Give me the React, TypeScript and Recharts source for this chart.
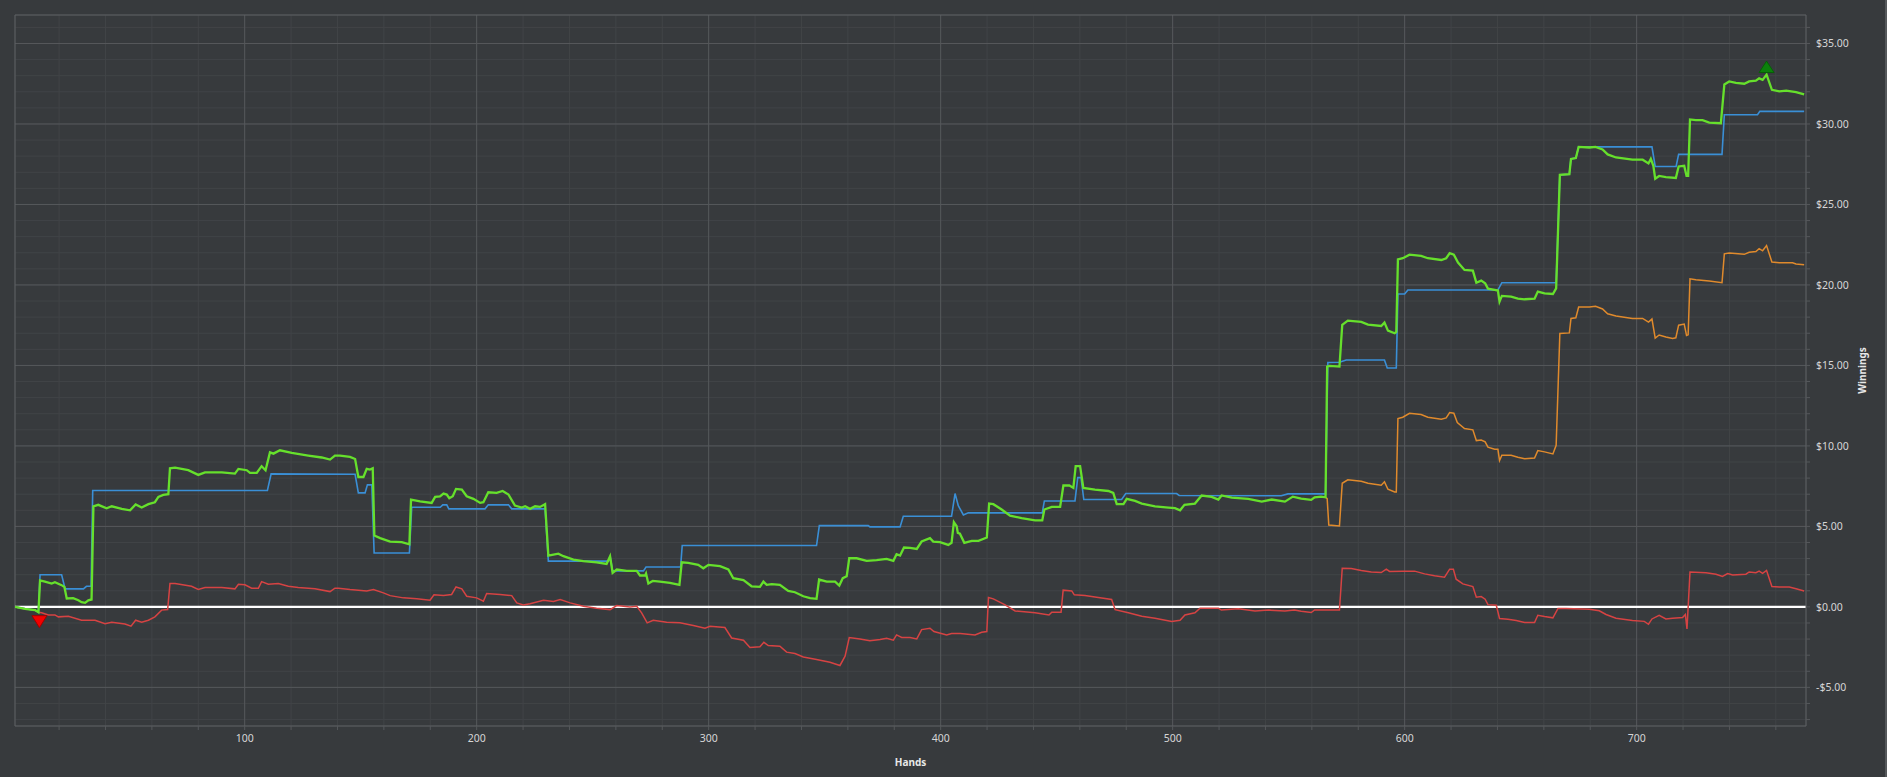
import {
  CartesianGrid,
  Label,
  Line,
  LineChart,
  ReferenceDot,
  ReferenceLine,
  XAxis,
  YAxis,
} from "recharts";

type Point = [number, number];

// axis ticks
const handTicks = [
  20, 40, 60, 80, 100, 120, 140, 160, 180, 200, 220, 240, 260, 280, 300, 320, 340, 360, 380,
  400, 420, 440, 460, 480, 500, 520, 540, 560, 580, 600, 620, 640, 660, 680, 700, 720, 740, 760,
];
const handLabels = [100, 200, 300, 400, 500, 600, 700];
const winningsTicks = [
  -7, -6, -5, -4, -3, -2, -1, 0, 1, 2, 3, 4, 5, 6, 7, 8, 9, 10, 11, 12, 13, 14, 15, 16, 17, 18,
  19, 20, 21, 22, 23, 24, 25, 26, 27, 28, 29, 30, 31, 32, 33, 34, 35, 36,
];
const winningsLabels = [-5, 0, 5, 10, 15, 20, 25, 30, 35];

const handDomain: Point = [1, 773];
const winningsDomain: Point = [-7.4, 36.77];

// net won (green)
const netWon: Point[] = [
  [1, 0], [5.3, -0.12], [9.6, -0.2], [11.1, -0.33], [11.8, 1.64], [13.9, 1.57], [16.8, 1.45],
  [18.2, 1.53], [21.1, 1.35], [22.3, 1.24], [23.3, 0.52], [26.1, 0.54], [28.3, 0.41], [29.7, 0.29],
  [31.2, 0.25], [32.6, 0.41], [34.0, 0.46], [34.8, 6.25], [36.9, 6.34], [40.5, 6.13], [42.7, 6.25],
  [47, 6.09], [50.6, 6.0], [53, 6.36], [55.6, 6.17], [58.5, 6.38], [61.3, 6.5], [62.8, 6.83],
  [64.9, 6.96], [67.1, 7.0], [67.8, 8.61], [70, 8.65], [75.7, 8.49], [80, 8.2], [82.9, 8.36],
  [90.1, 8.36], [95.8, 8.28], [97.3, 8.57], [100.9, 8.49], [102.3, 8.32], [105.2, 8.32],
  [107.3, 8.74], [109, 8.49], [110.9, 9.6], [112.4, 9.52], [115.2, 9.73], [120.3, 9.57],
  [127.4, 9.4], [133.2, 9.28], [136.8, 9.15], [138.9, 9.4], [141.1, 9.4], [145.4, 9.32],
  [147.6, 9.19], [149, 8.07], [151.2, 8.07], [152.6, 8.57], [154, 8.53], [155.2, 8.61],
  [155.9, 4.43], [158.4, 4.27], [162.7, 4.06], [167.7, 4.02], [171, 3.89], [171.7, 6.67],
  [175.6, 6.56], [180.6, 6.46], [182.1, 6.83], [184.2, 6.87], [185.7, 7.04], [187.1, 6.98],
  [188.2, 6.75], [189.7, 6.87], [191.1, 7.33], [193.6, 7.29], [195.7, 6.87], [198.6, 6.71],
  [201.5, 6.46], [202.9, 6.5], [205, 7.12], [208.6, 7.08], [211.2, 7.2], [213.7, 6.98],
  [216.5, 6.29], [219.4, 6.17], [220.9, 6.25], [223, 6.09], [225.2, 6.25], [227.3, 6.21],
  [229.5, 6.38], [230.9, 3.19], [235.2, 3.31], [237.4, 3.15], [241.7, 2.94], [246, 2.84],
  [251.7, 2.77], [256, 2.67], [257.5, 3.15], [258.6, 2.11], [260.4, 2.32], [264.7, 2.24],
  [269, 2.24], [270.4, 1.95], [272.6, 1.95], [273, 2.07], [274, 1.45], [275.9, 1.61], [279, 1.57],
  [283.3, 1.49], [287.4, 1.37], [288.4, 2.77], [291.2, 2.73], [295.5, 2.61], [297.7, 2.4],
  [299.9, 2.61], [304.9, 2.53], [308.5, 2.32], [310.6, 1.78], [315, 1.66], [318.5, 1.28],
  [322.1, 1.24], [323.6, 1.57], [325, 1.37], [327.2, 1.41], [330.7, 1.37], [334.3, 0.99],
  [337.2, 0.91], [340.8, 0.66], [343.7, 0.54], [346.5, 0.5], [347.6, 1.7], [350.9, 1.57],
  [354.5, 1.57], [356.3, 1.33], [357.8, 1.78], [359.5, 1.9], [360.6, 3.02], [363.8, 3.02],
  [368.1, 2.86], [372.4, 2.9], [376.7, 2.98], [379.6, 2.86], [381, 3.27], [382.5, 3.19],
  [384.2, 3.69], [386.8, 3.67], [389.7, 3.6], [391.8, 4.06], [395.4, 4.27], [396.8, 4.06],
  [399.7, 4.02], [403.3, 3.85], [404.7, 3.98], [405.7, 5.26], [406.9, 5.01], [407.4, 4.6],
  [408.3, 4.55], [410.2, 3.98], [413.4, 4.1], [416.3, 4.1], [419.9, 4.31], [420.9, 6.42],
  [422.7, 6.38], [426.3, 6.05], [429.9, 5.67], [434.9, 5.51], [440.7, 5.38], [443.8, 5.38],
  [444.7, 6.05], [447.9, 6.21], [451.5, 6.21], [452.9, 7.54], [455.5, 7.54], [457.2, 7.39],
  [458.2, 8.74], [460.1, 8.74], [461.5, 7.39], [466.5, 7.29], [472.3, 7.2], [474.4, 7.08],
  [475.9, 6.38], [478.8, 6.38], [480.2, 6.71], [483.8, 6.58], [486.7, 6.42], [492.4, 6.25],
  [498.2, 6.17], [501, 6.13], [503.2, 6.0], [505.1, 6.34], [509.6, 6.42], [512.5, 6.92],
  [516.8, 6.83], [519.7, 6.67], [521.1, 6.92], [525.5, 6.79], [532.6, 6.71], [538.4, 6.54],
  [542.7, 6.67], [548.4, 6.54], [551.8, 6.85], [555.4, 6.73], [559.7, 6.65], [561.2, 6.81],
  [564, 6.85], [565.9, 6.81], [566.6, 14.93], [567.6, 14.97], [571.9, 14.93], [573.1, 17.52],
  [575.5, 17.78], [581.3, 17.7], [584.2, 17.54], [589.9, 17.45], [591.3, 17.66], [592.8, 17.16],
  [595.7, 17.0], [596.4, 17.08], [597.1, 21.59], [599.2, 21.66], [602.1, 21.88], [607.1, 21.8],
  [610, 21.66], [615.8, 21.55], [617.9, 21.66], [619.4, 21.97], [621.2, 21.88], [623, 21.39],
  [625.8, 20.93], [629.4, 20.89], [630.9, 20.14], [633, 20.27], [634.7, 20.1], [635.9, 19.77],
  [638.8, 19.69], [640.2, 19.65], [640.9, 18.96], [641.9, 19.32], [645.9, 19.28], [648.8, 19.15],
  [651.7, 19.11], [656, 19.15], [657.4, 19.59], [660.3, 19.48], [663.9, 19.44], [665.3, 19.79],
  [666.9, 26.84], [671, 26.88], [671.7, 27.83], [673.8, 27.88], [675, 28.58], [679.6, 28.54],
  [682.3, 28.58], [685.3, 28.42], [687.5, 28.11], [691.1, 27.92], [698.2, 27.78], [702.6, 27.78],
  [705.1, 27.55], [706.1, 27.83], [707.2, 27.4], [708, 26.6], [709.7, 26.77], [712.6, 26.7],
  [716.9, 26.65], [718.1, 27.36], [720.5, 27.4], [721.5, 26.77], [722.2, 26.77], [723, 30.28],
  [725.5, 30.24], [728.4, 30.24], [731.3, 30.09], [736.3, 30.05], [737.8, 32.45], [739.9, 32.64],
  [742.8, 32.55], [746.4, 32.5], [748.5, 32.64], [751.4, 32.69], [752.8, 32.83], [754.3, 32.74],
  [756, 33.07], [758.3, 32.12], [761.5, 32.03], [764.5, 32.07], [768.7, 31.98], [772.2, 31.84],
];

// all-in adjusted (blue)
const allInEv: Point[] = [
  [1, 0], [5.3, -0.12], [9.6, -0.2], [11.1, -0.33], [11.8, 2.0], [21.1, 2.0], [22.6, 1.12],
  [30.5, 1.12], [31.8, 1.28], [33.8, 1.28], [34.5, 7.23], [109.8, 7.23], [111.4, 8.26],
  [147.6, 8.24], [149, 7.08], [151.9, 7.08], [152.9, 7.58], [154.8, 7.58], [155.8, 3.35],
  [171, 3.35], [172, 6.19], [184.3, 6.19], [185.4, 6.34], [187.1, 6.34], [188, 6.09],
  [203.6, 6.09], [205, 6.34], [213.7, 6.34], [215.1, 6.09], [229.5, 6.09], [230.9, 2.84],
  [256.8, 2.84], [257.5, 3.15], [258.6, 2.24], [271.9, 2.24], [273, 2.48], [287.9, 2.48],
  [288.6, 3.81], [346.5, 3.81], [347.7, 5.05], [368.8, 5.05], [369.5, 4.97], [382.5, 4.97],
  [383.9, 5.63], [404.7, 5.63], [406.2, 7.04], [407.6, 6.29], [409.8, 5.71], [411.9, 5.84],
  [443.8, 5.84], [444.7, 6.58], [457.9, 6.58], [459.1, 8.03], [460.5, 8.03], [461.7, 6.67],
  [478, 6.67], [479.8, 7.04], [501.7, 7.04], [502.8, 6.92], [546.8, 6.9], [549.7, 7.02],
  [565.9, 7.02], [566.9, 15.18], [571.9, 15.2], [574.8, 15.34], [591.3, 15.34], [592.5, 14.84],
  [596.4, 14.84], [597.1, 19.44], [600, 19.44], [601.4, 19.69], [640.2, 19.69], [641.9, 20.14],
  [665.3, 20.14], [666.9, 26.84], [671, 26.88], [671.7, 27.83], [673.8, 27.88], [675, 28.58],
  [706.6, 28.58], [708, 27.36], [717, 27.36], [718.1, 28.11], [736.8, 28.11], [737.8, 30.57],
  [752.1, 30.57], [753.1, 30.78], [772.2, 30.78],
];

// showdown winnings (orange)
const showdownWon: Point[] = [
  [565.9, 6.81], [566.6, 6.73], [567.3, 5.09], [571.9, 5.03], [573.1, 7.68], [575.5, 7.89],
  [581.3, 7.81], [584.2, 7.68], [589.9, 7.56], [591.3, 7.77], [592.8, 7.31], [595.7, 7.14],
  [596.4, 7.14], [597.1, 11.7], [599.2, 11.78], [602.1, 12.03], [607.1, 11.95], [610, 11.78],
  [615.8, 11.66], [617.9, 11.74], [619.4, 12.07], [621.2, 12.03], [622.7, 11.45], [625.8, 11.08],
  [629.4, 11.0], [630.9, 10.33], [633, 10.37], [634.7, 10.25], [635.9, 9.92], [638.8, 9.79],
  [640.2, 9.79], [640.9, 9.09], [641.9, 9.42], [645.9, 9.42], [648.8, 9.3], [651.7, 9.21],
  [656, 9.25], [657.4, 9.71], [660.3, 9.63], [663.9, 9.5], [665.3, 10.04], [666.9, 16.98],
  [671, 17.02], [671.7, 17.92], [673.8, 17.96], [675, 18.63], [679.6, 18.63], [682.3, 18.67],
  [685.3, 18.51], [687.5, 18.21], [691.1, 18.07], [698.2, 17.92], [702.6, 17.92], [705.1, 17.69],
  [706.6, 17.88], [708, 16.7], [709.7, 16.89], [712.6, 16.77], [715.5, 16.68], [716.9, 16.72],
  [718.1, 17.5], [720.5, 17.57], [721.5, 16.86], [722.2, 16.9], [723, 20.38], [725.5, 20.33],
  [731.3, 20.24], [736.8, 20.14], [737.8, 21.93], [739.9, 21.98], [746.4, 21.9], [748.5, 22.03],
  [751.4, 22.08], [752.8, 22.26], [754.3, 22.12], [756, 22.45], [758.3, 21.42], [761.5, 21.38],
  [767.2, 21.38], [768.7, 21.3], [772.2, 21.26],
];

// non-showdown winnings (red)
const nonShowdownWon: Point[] = [
  [1, 0], [5.3, -0.12], [9.6, -0.2], [11.1, -0.33], [12.5, -0.37], [15.4, -0.5], [18.2, -0.5],
  [19.7, -0.62], [24, -0.58], [29.7, -0.83], [35.5, -0.83], [39.8, -1.04], [42.7, -0.95],
  [48.4, -1.06], [51, -1.2], [53, -0.83], [55.6, -0.95], [58.5, -0.83], [61.3, -0.62],
  [64.2, -0.2], [66.8, -0.17], [67.8, 1.45], [70, 1.45], [77.1, 1.28], [80, 1.08], [82.9, 1.2],
  [90.1, 1.2], [95.8, 1.12], [97.3, 1.41], [100.1, 1.37], [103, 1.16], [105.9, 1.16],
  [107.3, 1.57], [110.2, 1.41], [114.5, 1.45], [118.8, 1.28], [123.1, 1.2], [130.3, 1.12],
  [136.8, 0.95], [138.9, 1.16], [140.4, 1.16], [145.4, 1.08], [152.6, 0.99], [155.5, 1.08],
  [159.8, 0.87], [162.7, 0.7], [168.4, 0.56], [174.2, 0.5], [179.9, 0.41], [181.6, 0.75],
  [185.7, 0.7], [189.2, 0.77], [191.1, 1.24], [193.6, 1.12], [195.7, 0.66], [200, 0.56],
  [202.9, 0.35], [204.3, 0.83], [210.1, 0.77], [215.1, 0.7], [217.3, 0.25], [220.1, 0.12],
  [223, 0.2], [228.8, 0.41], [233.1, 0.33], [236, 0.46], [240.3, 0.25], [246, 0.04],
  [251.7, -0.08], [257.5, -0.17], [260.4, 0.08], [266.1, 0], [269, 0.04], [271.1, -0.37],
  [273.5, -0.99], [276.1, -0.83], [281.9, -0.95], [287.6, -0.99], [293.4, -1.16], [298.4, -1.33],
  [300.6, -1.2], [307, -1.28], [309.9, -1.93], [315, -2.07], [317.8, -2.52], [322.1, -2.48],
  [323.8, -2.2], [325.7, -2.4], [330.7, -2.44], [333.6, -2.81], [337.2, -2.9], [340.8, -3.11],
  [346.5, -3.27], [352.3, -3.44], [356.6, -3.64], [358.8, -3.06], [360.6, -1.9], [365.2, -1.99],
  [369.5, -2.11], [373.9, -2.03], [376.7, -1.95], [379.6, -2.07], [381, -1.74], [383.2, -1.9],
  [386.8, -1.9], [389.7, -1.99], [391.8, -1.41], [395.4, -1.33], [397.1, -1.53], [402.6, -1.74],
  [404.7, -1.66], [408.5, -1.66], [414.8, -1.74], [417.7, -1.58], [419.9, -1.53], [420.6, 0.58],
  [422.7, 0.5], [427.8, 0.12], [432.1, -0.25], [440.7, -0.37], [446.7, -0.5], [447.9, -0.33],
  [451.9, -0.33], [452.8, 1.04], [456.5, 0.99], [457.6, 0.75], [462.2, 0.7], [466.5, 0.62],
  [473.7, 0.46], [475.2, -0.17], [480.9, -0.37], [486.7, -0.58], [492.4, -0.7], [499.6, -0.91],
  [503.2, -0.83], [505.3, -0.5], [509.6, -0.37], [511.8, -0.08], [519.7, -0.08], [521, -0.2],
  [528.3, -0.12], [535.5, -0.25], [541.3, -0.2], [548.4, -0.25], [552.5, -0.2], [555.4, -0.27],
  [559.7, -0.35], [561.2, -0.19], [571.9, -0.19], [573.1, 2.4], [577, 2.38], [581.3, 2.26],
  [585.6, 2.17], [589.9, 2.13], [592.1, 2.34], [593.5, 2.2], [599.2, 2.22], [604.3, 2.22],
  [608.6, 2.05], [612.9, 1.93], [617.2, 1.84], [619.4, 2.34], [621, 2.34], [622.2, 1.72],
  [625.1, 1.43], [629.4, 1.26], [630.9, 0.6], [633, 0.64], [634.7, 0.48], [635.9, 0.14],
  [639.5, 0.1], [640.9, -0.72], [644.5, -0.77], [648.1, -0.85], [651.7, -0.97], [656, -0.97],
  [657.4, -0.52], [660.3, -0.6], [663.9, -0.68], [666.1, -0.1], [669.5, -0.1], [679.6, -0.14],
  [683.9, -0.24], [686.8, -0.47], [691.1, -0.71], [698.2, -0.85], [703.3, -0.9], [705.1, -1.08],
  [706.6, -0.75], [709.7, -0.52], [712.6, -0.75], [715.5, -0.71], [719.8, -0.66], [721, -0.47],
  [721.7, -1.37], [723, 2.17], [729.9, 2.12], [734.2, 2.03], [737, 1.89], [739.2, 2.07],
  [741.4, 1.98], [747.1, 2.03], [748.5, 2.17], [751.4, 2.12], [752.8, 2.22], [754.3, 2.08],
  [756, 2.26], [758.3, 1.27], [761.5, 1.23], [765.8, 1.23], [768.7, 1.13], [772.2, 0.99],
];

const toRows = (points: Point[]) => points.map(([hand, value]) => ({ hand, value }));

const MINOR = "#414447";
const MAJOR = "#55585b";
const FRAME = "#5e6164";
const TEXT = "#d6d6d6";
const FONT = "'Noto Sans', 'Liberation Sans', sans-serif";

function money(value: number): string {
  return value < 0 ? `-$${Math.abs(value).toFixed(2)}` : `$${value.toFixed(2)}`;
}

function HandTick(props: any) {
  const { x, y, payload } = props;
  if (!handLabels.includes(payload.value)) return <g />;
  return (
    <text x={x} y={y} dy="0.71em" textAnchor="middle" fill={TEXT} fontSize={10.5} fontFamily={FONT}>
      {payload.value}
    </text>
  );
}

function WinningsTick(props: any) {
  const { x, y, payload } = props;
  if (!winningsLabels.includes(payload.value)) return <g />;
  return (
    <text x={x} y={y} dy="0.35em" textAnchor="start" fill={TEXT} fontSize={10.5} fontFamily={FONT}>
      {money(payload.value)}
    </text>
  );
}

function WinningsLabel(props: any) {
  const { viewBox } = props;
  const cx = viewBox.x + viewBox.width - 14;
  const cy = viewBox.y + viewBox.height / 2;
  return (
    <text
      x={cx}
      y={cy}
      dy="0.35em"
      transform={`rotate(-90 ${cx} ${cy})`}
      textAnchor="middle"
      fill="#e8e8e8"
      fontSize={10}
      fontWeight="bold"
      fontFamily={FONT}
    >
      Winnings
    </text>
  );
}

// max marker sits just above the peak point
function PeakMarker(props: any) {
  const { cx, cy } = props;
  return (
    <polygon
      points={`${cx - 7.5},${cy - 2} ${cx + 7.5},${cy - 2} ${cx},${cy - 13.5}`}
      fill="#0b800b"
      stroke="#066006"
      strokeWidth={1}
    />
  );
}

// min marker sits just below the lowest point
function TroughMarker(props: any) {
  const { cx, cy } = props;
  return (
    <polygon
      points={`${cx - 6.5},${cy + 3.5} ${cx + 8.5},${cy + 3.5} ${cx + 1},${cy + 15.5}`}
      fill="#f20000"
      stroke="#a00000"
      strokeWidth={1}
    />
  );
}

export default function App() {
  const netRows = toRows(netWon);
  const peak = netRows.reduce((best, row) => (row.value > best.value ? row : best));
  const trough = netRows.reduce((best, row) => (row.value < best.value ? row : best));

  return (
    <div
      style={{
        position: "fixed",
        left: 0,
        top: 0,
        width: 1887,
        height: 777,
        background: "#373a3d",
        overflow: "hidden",
      }}
    >
      <LineChart width={1887} height={777} margin={{ top: 15, right: 11, bottom: 21, left: 15 }}>
        <CartesianGrid stroke={MINOR} strokeWidth={1} />
        <XAxis
          type="number"
          dataKey="hand"
          domain={handDomain}
          allowDataOverflow
          ticks={handTicks}
          interval={0}
          tick={HandTick}
          tickSize={4}
          tickMargin={5}
          tickLine={{ stroke: MAJOR }}
          axisLine={{ stroke: FRAME }}
          height={30}
        >
          <Label
            value="Hands"
            position="bottom"
            offset={3}
            fill="#e8e8e8"
            fontSize={10}
            fontWeight="bold"
            fontFamily={FONT}
          />
        </XAxis>
        <YAxis
          type="number"
          orientation="right"
          domain={winningsDomain}
          allowDataOverflow
          ticks={winningsTicks}
          interval={0}
          tick={WinningsTick}
          tickSize={4}
          tickMargin={6}
          tickLine={{ stroke: MAJOR }}
          axisLine={{ stroke: FRAME }}
          width={70}
        >
          <Label content={WinningsLabel} />
        </YAxis>

        {handLabels.map((hand) => (
          <ReferenceLine key={`vx${hand}`} x={hand} stroke={MAJOR} />
        ))}
        {winningsLabels
          .filter((value) => value !== 0)
          .map((value) => (
            <ReferenceLine key={`hy${value}`} y={value} stroke={MAJOR} />
          ))}
        <ReferenceLine x={handDomain[0]} stroke={FRAME} />
        <ReferenceLine y={winningsDomain[1]} stroke={FRAME} />
        <ReferenceLine y={0} stroke="#ffffff" strokeWidth={2.4} />

        <Line
          data={toRows(showdownWon)}
          dataKey="value"
          stroke="#e08a2c"
          strokeWidth={1.5}
          dot={false}
          activeDot={false}
          isAnimationActive={false}
        />
        <Line
          data={toRows(nonShowdownWon)}
          dataKey="value"
          stroke="#d64343"
          strokeWidth={1.5}
          dot={false}
          activeDot={false}
          isAnimationActive={false}
        />
        <Line
          data={toRows(allInEv)}
          dataKey="value"
          stroke="#3a8fd6"
          strokeWidth={1.6}
          dot={false}
          activeDot={false}
          isAnimationActive={false}
        />
        <Line
          data={netRows}
          dataKey="value"
          stroke="#66e02c"
          strokeWidth={2.3}
          dot={false}
          activeDot={false}
          isAnimationActive={false}
        />

        <ReferenceDot x={peak.hand} y={peak.value} shape={PeakMarker} />
        <ReferenceDot x={trough.hand} y={trough.value} shape={TroughMarker} />
      </LineChart>
      <div
        style={{
          position: "absolute",
          right: 0,
          top: 0,
          width: 2,
          height: 777,
          background: "#55585b",
        }}
      />
    </div>
  );
}
